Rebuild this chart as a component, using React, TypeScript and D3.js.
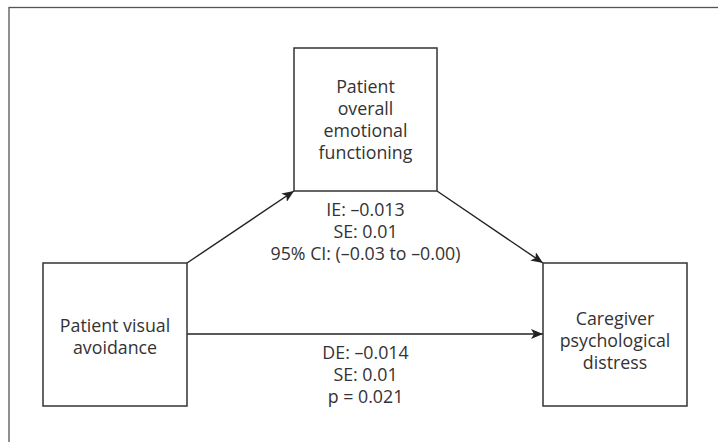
import React, { useRef, useEffect } from 'react';
import * as d3 from 'd3';

// node labels (one entry per line)
const mediatorLabel = ['Patient', 'overall', 'emotional', 'functioning'];
const predictorLabel = ['Patient visual', 'avoidance'];
const outcomeLabel = ['Caregiver', 'psychological', 'distress'];

// path statistics
const indirectStats = ['IE: \u20130.013', 'SE: 0.01', '95% CI: (\u20130.03 to \u20130.00)'];
const directStats = ['DE: \u20130.014', 'SE: 0.01', 'p = 0.021'];

const W = 718;
const H = 442;
const ink = '#333';
const font = "'Open Sans', 'Noto Sans', sans-serif";

const App: React.FC = () => {
  const ref = useRef<SVGSVGElement | null>(null);

  useEffect(() => {
    if (!ref.current) return;
    const svg = d3.select(ref.current);
    svg.selectAll('*').remove();

    // layout boxes in pixel space
    const boxes = [
      { id: 'med', x0: 294, x1: 437, y0: 48, y1: 191, lines: mediatorLabel, cy: 119 },
      { id: 'pred', x0: 43, x1: 187, y0: 263, y1: 406, lines: predictorLabel, cy: 336 },
      { id: 'out', x0: 543, x1: 687, y0: 263, y1: 406, lines: outcomeLabel, cy: 340 },
    ];
    const byId = Object.fromEntries(boxes.map(b => [b.id, b]));
    const lineH = 22.3;

    svg.append('defs').append('marker')
      .attr('id', 'arrow')
      .attr('viewBox', '0 0 12 10')
      .attr('refX', 12)
      .attr('refY', 5)
      .attr('markerWidth', 12)
      .attr('markerHeight', 10)
      .attr('markerUnits', 'userSpaceOnUse')
      .attr('orient', 'auto')
      .append('path')
      .attr('d', 'M0,0L12,5L0,10L3,5Z')
      .attr('fill', '#222');

    // outer frame
    svg.append('rect')
      .attr('x', 9).attr('y', 7.5)
      .attr('width', W + 20).attr('height', H + 20)
      .attr('fill', 'none').attr('stroke', '#555').attr('stroke-width', 1.3);

    const med = byId.med, pred = byId.pred, out = byId.out;
    const edges: [number, number][][] = [
      [[pred.x1, pred.y0], [med.x0, med.y1]],
      [[med.x1, med.y1], [out.x0, out.y0]],
      [[pred.x1, (pred.y0 + pred.y1) / 2 - 0.5], [out.x0, (out.y0 + out.y1) / 2 - 0.5]],
    ];
    const line = d3.line();
    svg.selectAll('path.edge')
      .data(edges)
      .join('path')
      .attr('class', 'edge')
      .attr('d', d => line(d))
      .attr('fill', 'none')
      .attr('stroke', '#222')
      .attr('stroke-width', 1.4)
      .attr('marker-end', 'url(#arrow)');

    svg.selectAll('rect.node')
      .data(boxes)
      .join('rect')
      .attr('class', 'node')
      .attr('x', d => d.x0).attr('y', d => d.y0)
      .attr('width', d => d.x1 - d.x0).attr('height', d => d.y1 - d.y0)
      .attr('fill', 'none').attr('stroke', ink).attr('stroke-width', 1.5);

    const writeBlock = (lines: string[], cx: number, cy: number) => {
      const n = lines.length;
      svg.append('g')
        .selectAll('text')
        .data(lines)
        .join('text')
        .attr('x', cx)
        .attr('y', (_, i) => cy + (i - (n - 1) / 2) * lineH)
        .attr('text-anchor', 'middle')
        .attr('dominant-baseline', 'central')
        .attr('font-family', font)
        .attr('font-size', 17.8)
        .attr('fill', ink)
        .text(d => d);
    };

    boxes.forEach(b => writeBlock(b.lines, (b.x0 + b.x1) / 2, b.cy));
    writeBlock(indirectStats, 365.5, 231);
    writeBlock(directStats, 365.5, 374);
  }, []);

  return (
    <svg
      ref={ref}
      width={W}
      height={H}
      style={{ position: 'absolute', left: 0, top: 0, background: '#fff' }}
    />
  );
};

export default App;
